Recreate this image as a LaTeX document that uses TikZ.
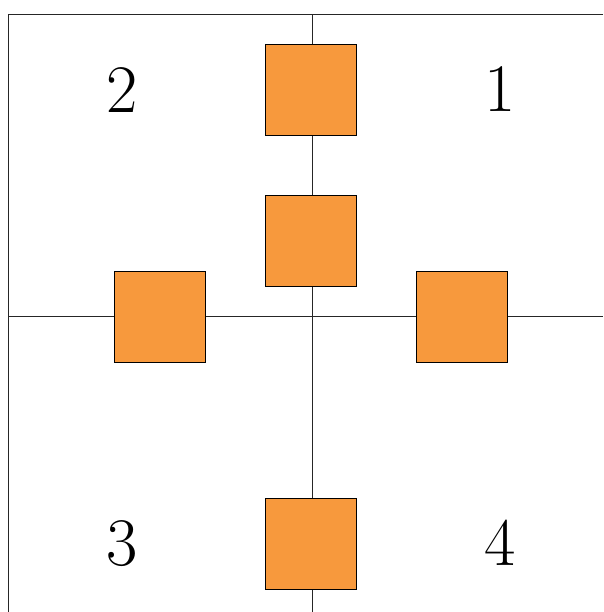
\documentclass[tikz,border=0pt]{standalone}
\definecolor{boxorange}{RGB}{247,153,61}
\begin{document}
\begin{tikzpicture}[x=1pt,y=-1pt,
  axis/.style={line width=0.8pt,black!85},
  sq/.style={draw=black,line width=0.8pt,fill=boxorange,minimum width=91pt,minimum height=91pt,inner sep=0pt,outer sep=0pt},
  num/.style={inner sep=0pt,font=\fontsize{68}{72}\selectfont}]
\useasboundingbox (0,0) rectangle (603,612);
\coordinate (tl) at (8.5,14.5);
\coordinate (tr) at (603,14.5);
\coordinate (bl) at (8.5,612);
\coordinate (vt) at (312,14.5);
\coordinate (vb) at (312,612);
\coordinate (hl) at (8.5,316.5);
\coordinate (hr) at (603,316.5);
\draw[axis] (tr) -- (tl) -- (bl);
\draw[axis] (vt) -- (vb);
\draw[axis] (hl) -- (hr);
\node[sq] (s1) at (310.5,90) {};
\node[sq] (s2) at (310.5,241) {};
\node[sq] (s3) at (159.5,316.5) {};
\node[sq] (s4) at (462,316.5) {};
\node[sq] (s5) at (310.5,543.5) {};
\node[num] (n2) at (122,90) {2};
\node[num] (n1) at (500,89.5) {1};
\node[num] (n3) at (122,543.5) {3};
\node[num] (n4) at (500,543) {4};
\end{tikzpicture}
\end{document}
